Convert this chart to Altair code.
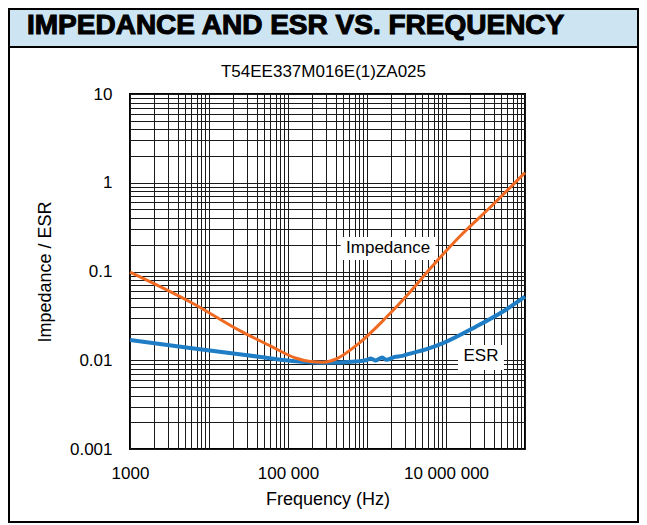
import altair as alt
import pandas as pd

# ---------------- data ----------------
header_text = "IMPEDANCE AND ESR VS. FREQUENCY"
subtitle_text = "T54EE337M016E(1)ZA025"
x_title = "Frequency (Hz)"
y_title = "Impedance / ESR"

imp_freq = [1000, 6120, 24900, 59800, 124000, 192000, 274000, 400000,
            789000, 1720000, 3400000, 6740000, 14700000, 38900000, 100000000]
imp_val = [0.0986, 0.0442, 0.0214, 0.0145, 0.0106, 0.00968, 0.00948, 0.01026,
           0.0155, 0.0299, 0.0568, 0.1153, 0.245, 0.561, 1.30]

esr_freq = [1000, 6070, 42500, 112700, 298000, 716000, 1000000, 1110000, 1290000, 1560000,
            1760000, 2200000, 2800000, 3400000, 5550000, 9040000, 23900000, 52100000, 100000000]
esr_val = [0.0169, 0.01365, 0.01096, 0.00982, 0.00938, 0.00968, 0.01005, 0.01045, 0.00995, 0.01075,
           0.01010, 0.01085, 0.01120, 0.01180, 0.01327, 0.0155, 0.0239, 0.0352, 0.0520]

label_names = ["Impedance", "ESR"]
label_freq = [1850000, 27700000]
label_val = [0.1815, 0.01074]

x_tick_values = [1000, 100000, 10000000]
x_tick_labels = ["1000", "100 000", "10 000 000"]
y_tick_values = [0.001, 0.01, 0.1, 1, 10]
y_tick_labels = ["0.001", "0.01", "0.1", "1", "10"]

# grid positions (1..9 per decade)
x_decades = [1000, 10000, 100000, 1000000, 10000000]
x_grid = [m * d for d in x_decades for m in range(1, 10)] + [100000000]
y_decades = [0.001, 0.01, 0.1, 1]
y_grid = [m * d for d in y_decades for m in range(1, 10)] + [10]


def label_expr(vals, labs):
    return "".join(f"datum.value == {v} ? '{l}' : " for v, l in zip(vals, labs)) + "''"


FONT = "Liberation Sans"
W, H = 395, 355
PAD = {"left": 122, "top": 86, "right": 114, "bottom": 74}
FRAME_L = -PAD["left"] + 1
FRAME_R = W + PAD["right"] - 1
FRAME_T = -PAD["top"] + 1
FRAME_B = H + PAD["bottom"] - 1

imp_df = pd.DataFrame({"freq": imp_freq, "val": imp_val})
esr_df = pd.DataFrame({"freq": esr_freq, "val": esr_val})
lab_df = pd.DataFrame({"name": label_names, "freq": label_freq, "val": label_val})
one = alt.Data(values=[{"a": 1}])

x_enc = alt.X(
    "freq:Q",
    scale=alt.Scale(type="log", domain=[1000, 100000000], nice=False),
    axis=alt.Axis(
        values=x_grid, labelExpr=label_expr(x_tick_values, x_tick_labels),
        grid=True, gridColor="#1a1a1a", gridOpacity=1, gridWidth=1,
        ticks=False, tickSize=0, domain=False,
        labelFont=FONT, labelFontSize=17, labelColor="#000000",
        labelBaseline="alphabetic", labelPadding=29, labelOverlap=False, labelFlush=False,
        title=x_title, titleFont=FONT, titleFontSize=18, titleFontWeight="normal",
        titleColor="#000000", titleBaseline="alphabetic", titleY=55,
    ),
)
y_enc = alt.Y(
    "val:Q",
    scale=alt.Scale(type="log", domain=[0.001, 10], nice=False),
    axis=alt.Axis(
        values=y_grid, labelExpr=label_expr(y_tick_values, y_tick_labels),
        grid=True, gridColor="#1a1a1a", gridOpacity=1, gridWidth=1,
        ticks=False, tickSize=0, domain=False,
        labelFont=FONT, labelFontSize=17, labelColor="#000000",
        labelPadding=18, labelOverlap=False, labelFlush=False,
        title=y_title, titleFont=FONT, titleFontSize=18, titleFontWeight="normal",
        titleColor="#000000", titleAngle=270, titleBaseline="alphabetic",
        titleX=-80, titleY=H / 2,
    ),
)

# frame / header decorations
outer = alt.Chart(one).mark_rect(fillOpacity=0, stroke="#000000", strokeWidth=2).encode(
    x=alt.value(FRAME_L), x2=alt.value(FRAME_R), y=alt.value(FRAME_T), y2=alt.value(FRAME_B))
header = alt.Chart(one).mark_rect(fill="#CDE5F3", stroke="#000000", strokeWidth=2).encode(
    x=alt.value(FRAME_L), x2=alt.value(FRAME_R), y=alt.value(FRAME_T), y2=alt.value(-47))
header_t = alt.Chart(one).mark_text(
    text=header_text, font=FONT, fontSize=28, fontWeight="bold", color="#000000",
    stroke="#000000", strokeWidth=1.1, align="left", baseline="alphabetic",
).encode(x=alt.value(-103), y=alt.value(-60))
sub_t = alt.Chart(one).mark_text(
    text=subtitle_text, font=FONT, fontSize=17, color="#000000",
    align="center", baseline="middle",
).encode(x=alt.value(W / 2 - 4), y=alt.value(-22))

esr_line = alt.Chart(esr_df).mark_line(color="#1F7DC6", strokeWidth=4, interpolate="monotone").encode(
    x=x_enc, y=y_enc)
imp_line = alt.Chart(imp_df).mark_line(color="#F06A22", strokeWidth=3, interpolate="monotone").encode(
    x="freq:Q", y="val:Q")

box_imp = alt.Chart(lab_df.iloc[[0]]).mark_point(
    shape="M-2.065,-0.5H2.065V0.5H-2.065Z", size=2116, filled=True, fill="#FFFFFF",
    opacity=1, strokeWidth=0).encode(x="freq:Q", y="val:Q")
box_esr = alt.Chart(lab_df.iloc[[1]]).mark_point(
    shape="M-0.92,-0.5H0.92V0.5H-0.92Z", size=2500, filled=True, fill="#FFFFFF",
    opacity=1, strokeWidth=0).encode(x="freq:Q", y="val:Q")
lab_text = alt.Chart(lab_df).mark_text(
    font=FONT, fontSize=17, color="#000000", align="center", baseline="middle", dy=-1,
).encode(x="freq:Q", y="val:Q", text="name:N")

chart = alt.layer(
    outer, header, header_t, sub_t, esr_line, imp_line, box_imp, box_esr, lab_text
).properties(
    width=W, height=H,
    autosize=alt.AutoSizeParams(type="none"),
    padding=PAD,
    background="#FFFFFF",
).configure_view(stroke="#000000", strokeWidth=2)

chart.save("out.html", embed_options={"renderer": "svg", "actions": False})
